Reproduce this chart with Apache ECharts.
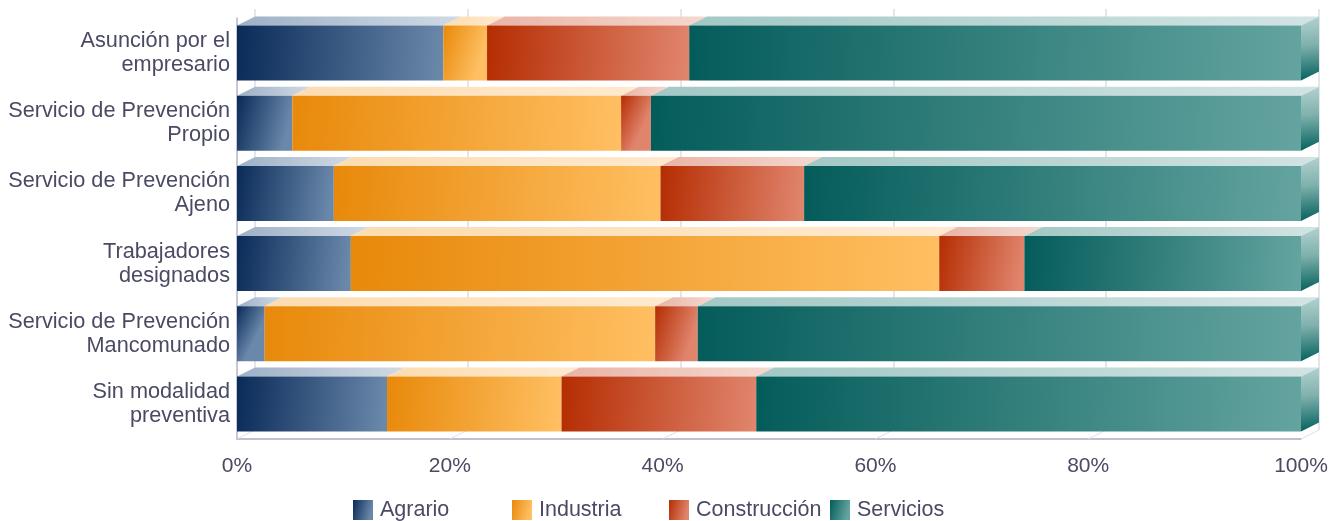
<!DOCTYPE html>
<html>
<head>
<meta charset="utf-8">
<script src="https://cdn.jsdelivr.net/npm/echarts@6/dist/echarts.min.js"></script>
<style>
html,body{margin:0;padding:0;background:#fff;}
#chart{width:1342px;height:521px;}
</style>
</head>
<body>
<div id="chart"></div>
<script>
const categories = [
  'Asunción por el\nempresario',
  'Servicio de Prevención\nPropio',
  'Servicio de Prevención\nAjeno',
  'Trabajadores\ndesignados',
  'Servicio de Prevención\nMancomunado',
  'Sin modalidad\npreventiva'
];
const seriesNames = ['Agrario', 'Industria', 'Construcción', 'Servicios'];
const agrario      = [19.4, 5.2, 9.1, 10.7, 2.6, 14.1];
const industria    = [4.1, 30.9, 30.7, 55.3, 36.7, 16.4];
const construccion = [19.0, 2.8, 13.5, 8.0, 4.0, 18.3];
const servicios    = [57.5, 61.1, 46.7, 26.0, 56.7, 51.2];
const xTicks = [0, 20, 40, 60, 80, 100];

const seriesValues = [agrario, industria, construccion, servicios];
const frontColors = [
  ['#0a2a58', '#6a88aa'],
  ['#e8890a', '#ffbf62'],
  ['#b52d02', '#e0846c'],
  ['#045c5a', '#64a4a0']
];
const topColors = [
  ['#9db0c6', '#d0dae5'],
  ['#fcdcb0', '#ffeacf'],
  ['#e9b4a5', '#f5d8cf'],
  ['#a2c8c5', '#d2e4e3']
];
const DX = 18, DY = -9, BAR = 55;
const G = echarts.graphic.LinearGradient;
const font = 'Liberation Sans, Arial, sans-serif';
const textColor = '#4a4a64';

const series = [];
seriesValues.forEach((vals, si) => {
  series.push({
    name: seriesNames[si], type: 'bar', stack: 'total', barWidth: BAR,
    xAxisIndex: 0, yAxisIndex: 0, z: 5,
    itemStyle: { color: new G(0, 0, 1, 0.25, [
      { offset: 0, color: frontColors[si][0] },
      { offset: 1, color: frontColors[si][1] }]) },
    emphasis: { disabled: true },
    data: vals
  });
});
// 3D top faces (and right face on the last segment)
seriesValues.forEach((vals, si) => {
  const data = vals.map((v, ci) => {
    let start = 0;
    for (let k = 0; k < si; k++) start += seriesValues[k][ci];
    return [start, start + v, ci];
  });
  series.push({
    name: 'top_' + seriesNames[si], type: 'custom', xAxisIndex: 0, yAxisIndex: 0, z: 4,
    silent: true,
    encode: { x: [0, 1], y: 2 },
    data: data,
    renderItem: function (params, api) {
      const s = api.value(0), e = api.value(1), c = api.value(2);
      const p0 = api.coord([s, c]);
      const p1 = api.coord([e, c]);
      const yT = p0[1] - BAR / 2, yB = p0[1] + BAR / 2;
      const children = [{
        type: 'polygon',
        shape: { points: [[p0[0], yT], [p1[0], yT], [p1[0] + DX, yT + DY], [p0[0] + DX, yT + DY]] },
        style: { fill: new G(0, 0, 1, 0, [
          { offset: 0, color: topColors[si][0] },
          { offset: 1, color: topColors[si][1] }]) }
      }];
      if (si === seriesValues.length - 1) {
        children.push({
          type: 'polygon',
          shape: { points: [[p1[0], yT], [p1[0] + DX, yT + DY], [p1[0] + DX, yB + DY], [p1[0], yB]] },
          style: { fill: new G(0, 0, 0.3, 1, [
            { offset: 0, color: '#b4d3d0' },
            { offset: 0.45, color: '#7fb1ad' },
            { offset: 1, color: '#06625e' }]) }
        });
      }
      return { type: 'group', children: children };
    }
  });
});
// floor diagonals
series.push({
  name: 'floor', type: 'custom', xAxisIndex: 0, yAxisIndex: 0, z: 1, silent: true,
  encode: { x: 0 },
  data: xTicks.map(v => [v]),
  renderItem: function (params, api) {
    const x = api.coord([api.value(0), 0])[0];
    const yb = params.coordSys.y + params.coordSys.height;
    return { type: 'line', shape: { x1: x, y1: yb, x2: x + DX, y2: yb + DY },
      style: { stroke: '#dedee8', lineWidth: 1 } };
  }
});

const chart = echarts.init(document.getElementById('chart'), null, { renderer: 'canvas' });
const legendLefts = [353, 512, 669, 830];
chart.setOption({
  animation: false,
  textStyle: { fontFamily: font },
  grid: [
    { left: 237, right: 41, top: 18, bottom: 82 },
    { left: 237 + DX, right: 41 - DX, top: 18 + DY, bottom: 82 - DY }
  ],
  legend: seriesNames.map((n, i) => ({
    data: [n], left: legendLefts[i], top: 499, itemWidth: 20, itemHeight: 20,
    icon: 'rect', itemGap: 0, selectedMode: false, padding: 0,
    textStyle: { fontSize: 21.5, color: textColor, fontFamily: font, padding: [2, 0, 0, 2] }
  })),
  xAxis: [
    { type: 'value', gridIndex: 0, min: 0, max: 100, interval: 20,
      axisLine: { show: true, lineStyle: { color: '#a9a9c6', width: 1.5 } },
      axisTick: { show: false }, splitLine: { show: false },
      axisLabel: { formatter: '{value}%', fontSize: 21, color: textColor, margin: 17, fontFamily: font } },
    { type: 'value', gridIndex: 1, min: 0, max: 100, interval: 20,
      axisLine: { show: false }, axisTick: { show: false }, axisLabel: { show: false },
      splitLine: { show: true, lineStyle: { color: '#dcdce8', width: 1.5 } } }
  ],
  yAxis: [
    { type: 'category', gridIndex: 0, data: categories, inverse: true,
      axisLine: { show: true, lineStyle: { color: '#b4b4cc', width: 1.5 } },
      axisTick: { show: false },
      axisLabel: { fontSize: 21.7, color: textColor, margin: 7, lineHeight: 24, fontFamily: font,
        align: 'right', padding: [10, 0, 0, 0] } },
    { type: 'category', gridIndex: 1, data: categories, inverse: true, show: false }
  ],
  series: series
});
</script>
</body>
</html>
